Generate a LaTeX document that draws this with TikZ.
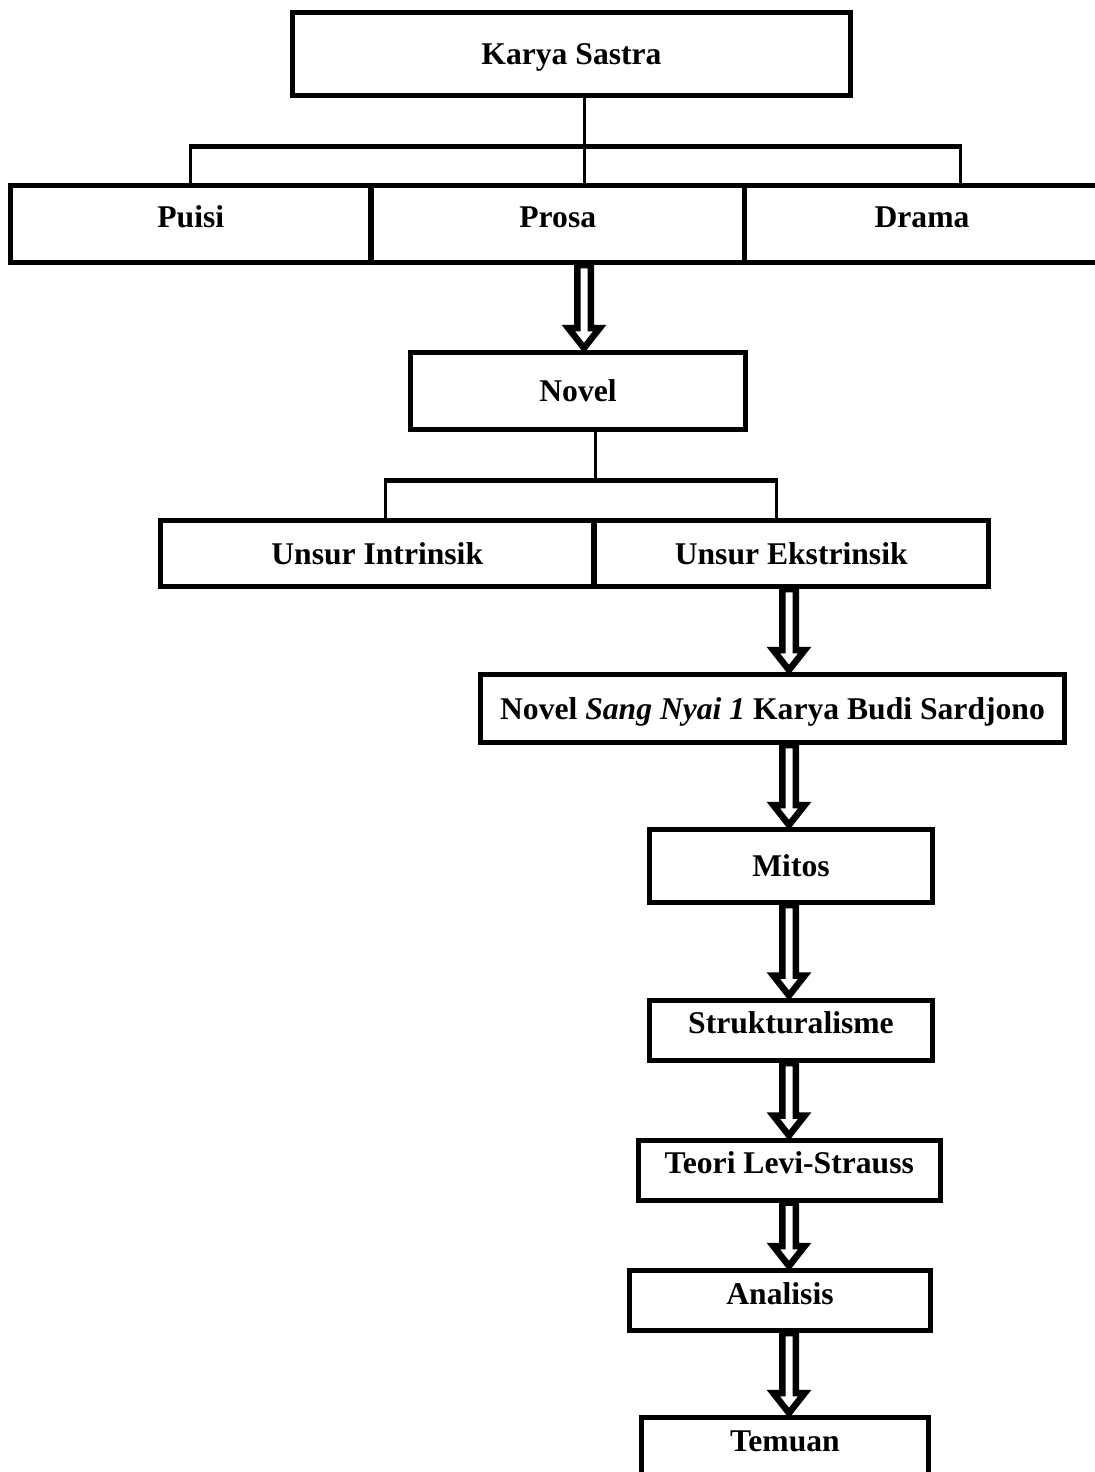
\documentclass[tikz,border=0pt]{standalone}
\usepackage{fontspec}
\setmainfont{Liberation Serif}
\tikzset{
  box/.style={draw,line width=0.1cm,inner sep=0pt,font=\fontsize{18}{21}\selectfont\bfseries,text height=12pt,text depth=0pt},
  lifted/.style={text depth=8pt},
  stem/.style={line width=0.06cm},
  bus/.style={line width=0.1cm},
  hollow/.style={line width=0.13cm,to path={([xshift=-0.135cm]\tikztostart) -- ([xshift=-0.135cm,yshift=0.44cm]\tikztotarget) -- ([xshift=-0.315cm,yshift=0.44cm]\tikztotarget) -- ([yshift=0.04cm]\tikztotarget) -- ([xshift=0.315cm,yshift=0.44cm]\tikztotarget) -- ([xshift=0.135cm,yshift=0.44cm]\tikztotarget) -- ([xshift=0.135cm]\tikztostart) -- cycle}}
}
\begin{document}
\begin{tikzpicture}[x=0.02cm,y=-0.02cm]
\useasboundingbox[fill=white] (0,0) rectangle (1095,1472);
% boxes
\node[box,minimum width=11.16cm,minimum height=1.66cm] (karya) at (571.5,54) {Karya Sastra};
\node[box,lifted,minimum width=7.21cm,minimum height=1.54cm] (puisi) at (190.75,224) {Puisi};
\node[box,lifted,minimum width=7.47cm,minimum height=1.54cm] (prosa) at (557.75,224) {Prosa};
\node[box,lifted,minimum width=7.1cm,minimum height=1.54cm] (drama) at (922,224) {Drama};
\node[box,minimum width=6.7cm,minimum height=1.54cm] (novel) at (578,391) {Novel};
\node[box,minimum width=8.67cm,minimum height=1.32cm] (intr) at (377.25,553.5) {Unsur Intrinsik};
\node[box,minimum width=7.89cm,minimum height=1.32cm] (ekstr) at (791.25,553.5) {Unsur Ekstrinsik};
\node[box,minimum width=11.68cm,minimum height=1.36cm] (nsn) at (772.5,708.5) {Novel \textit{Sang Nyai 1} Karya Budi Sardjono};
\node[box,minimum width=5.68cm,minimum height=1.46cm] (mitos) at (791,866) {Mitos};
\node[box,lifted,minimum width=5.66cm,minimum height=1.21cm] (struk) at (791,1030.25) {Strukturalisme};
\node[box,lifted,minimum width=6.05cm,minimum height=1.2cm] (teori) at (789.25,1170) {Teori Levi-Strauss};
\node[box,lifted,minimum width=6.02cm,minimum height=1.2cm] (analisis) at (780,1300.5) {Analisis};
\node[box,lifted,minimum width=5.76cm,minimum height=1.2cm] (temuan) at (785,1447.5) {Temuan};
% tree lines
\coordinate (bus1) at (584,146);
\draw[stem] (karya.south -| bus1) -- (bus1);
\draw[bus] (puisi.north |- bus1) -- (bus1 -| 960,0);
\foreach \x in {190.75,584,960}{\draw[stem] (\x,144) -- (prosa.north -| \x,0);}
\coordinate (bus2) at (595,480);
\draw[stem] (novel.south -| bus2) -- (bus2);
\draw[bus] (bus2 -| 385,0) -- (bus2 -| 776,0);
\foreach \x in {385,776}{\draw[stem] (\x,478) -- (intr.north -| \x,0);}
% hollow arrows
\draw[hollow] (prosa.south -| 584,0) to (novel.north -| 584,0);
\foreach \a/\b in {ekstr/nsn,nsn/mitos,mitos/struk,struk/teori,teori/analisis,analisis/temuan}{\draw[hollow] (\a.south -| 789,0) to (\b.north -| 789,0);}
\end{tikzpicture}
\end{document}
